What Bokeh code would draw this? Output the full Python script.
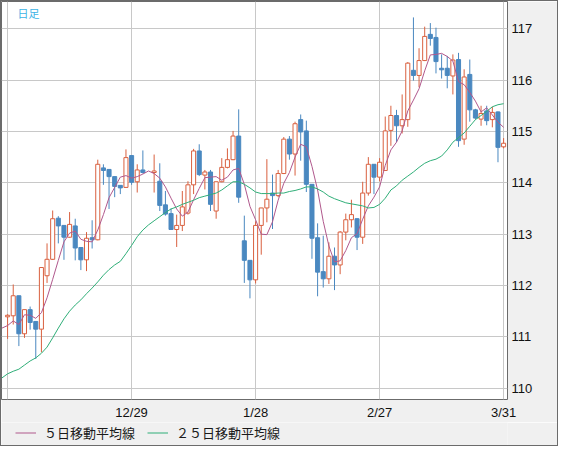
import numpy as np
from bokeh.plotting import figure
from bokeh.layouts import column
from bokeh.models import (ColumnDataSource, FixedTicker, Range1d, Legend,
                          LegendItem, Label)
from bokeh.embed import file_html
from bokeh.resources import INLINE

nan = float("nan")

# ---- daily candles (index 0 .. 88) ----
open_ = [
    111.39, 111.41, 111.80, 111.06, 111.53, 111.30, 111.15, 112.19, 112.51, 113.31,
    113.17, 112.94, 113.16, 112.74, 112.50, 112.93, 112.89, 114.29, 114.26, 114.12,
    113.95, 113.91, 114.53, 114.02, 114.25, nan, 114.20, 114.03, 113.57, 113.40,
    113.09, 113.17, 113.41, 113.96, 114.62, 114.15, 114.21, 113.45, 114.02, 114.30,
    114.45, 114.91, 112.87, 112.49, 112.11, 113.17, 113.51, 113.80, 113.75, 114.18,
    114.85, 114.56, 115.23, 115.01, 113.97, 112.93, 112.27, 112.13, 112.57, 112.40,
    113.04, 113.28, 113.30, 112.94, 113.80, 114.36, 114.11, 114.24, 115.02, 115.31,
    115.11, 115.23, 116.19, 116.09, 116.38, 116.89, 116.83, 116.23, 116.23, 116.08,
    116.40, 114.85, 116.11, 115.42, 115.24, 115.40, 115.23, 115.38, 114.70,
]
high = [
    111.44, 112.02, 111.80, 111.53, 111.59, 111.30, 112.36, 112.82, 113.46, 113.35,
    113.17, 113.43, 113.30, 112.74, 113.04, 113.27, 114.45, 114.36, 114.26, 114.12,
    113.95, 114.65, 114.53, 114.36, 114.63, nan, 114.55, 114.38, 113.84, 113.50,
    113.38, 113.84, 114.03, 114.66, 114.75, 114.25, 114.25, 114.02, 114.48, 114.67,
    115.01, 115.43, 113.36, 112.49, 113.25, 113.51, 114.46, 114.16, 114.25, 114.89,
    114.91, 115.19, 115.33, 115.21, 113.97, 113.21, 112.97, 112.84, 112.74, 113.06,
    113.40, 113.67, 113.31, 114.02, 114.50, 114.36, 114.48, 115.29, 115.50, 115.42,
    115.72, 116.35, 117.22, 116.62, 117.04, 117.11, 117.02, 116.50, 116.47, 116.50,
    116.53, 116.21, 116.40, 115.44, 115.50, 115.50, 115.48, 115.39, 114.87,
]
low = [
    110.96, 111.24, 110.82, 110.98, 111.14, 110.57, 110.70, 112.05, 112.50, 112.82,
    112.50, 112.93, 112.49, 112.30, 112.28, 112.72, 112.88, 113.96, 113.49, 113.72,
    113.78, 113.90, 113.96, 113.81, 114.18, nan, 113.81, 113.45, 113.36, 113.09,
    112.75, 113.06, 113.38, 113.78, 114.13, 113.87, 113.45, 113.30, 114.01, 114.28,
    114.44, 113.61, 112.05, 111.75, 112.04, 112.60, 113.23, 113.10, 113.72, 114.17,
    114.45, 114.14, 114.43, 113.82, 112.52, 111.79, 111.96, 112.03, 111.91, 112.22,
    112.88, 113.13, 112.69, 112.81, 113.75, 113.78, 114.03, 114.23, 114.72, 114.79,
    114.96, 115.09, 115.99, 115.86, 116.37, 116.67, 116.13, 116.03, 115.84, 115.72,
    114.70, 114.74, 115.19, 115.23, 115.11, 115.12, 115.08, 114.40, 114.67,
]
close = [
    111.42, 111.80, 111.06, 111.53, 111.28, 111.15, 112.35, 112.51, 113.30, 113.16,
    112.94, 113.19, 112.73, 112.50, 112.92, 112.89, 114.36, 114.24, 114.12, 113.93,
    113.90, 114.49, 114.01, 114.25, 114.20, nan, 114.23, 113.56, 113.39, 113.09,
    113.17, 113.53, 113.96, 114.62, 114.16, 114.21, 113.58, 114.02, 114.30, 114.45,
    114.91, 113.72, 112.49, 112.11, 113.17, 113.51, 113.68, 113.75, 114.18, 114.85,
    114.56, 115.15, 114.99, 113.97, 112.92, 112.26, 112.13, 112.57, 112.40, 113.04,
    113.28, 113.38, 112.94, 113.80, 114.36, 114.11, 114.40, 115.01, 115.31, 115.11,
    115.23, 116.33, 116.09, 116.38, 116.85, 116.81, 116.36, 116.20, 116.09, 116.39,
    114.82, 116.06, 115.42, 115.26, 115.35, 115.21, 115.37, 114.69, 114.77,
]

# ---- moving averages (index -1 .. 88) ----
ma5 = [
    111.17,
    111.22, 111.31, 111.24, 111.43, 111.42, 111.36, 111.47, 111.76, 112.12, 112.49,
    112.85, 113.02, 113.06, 112.90, 112.86, 112.85, 113.08, 113.38, 113.71, 113.91,
    114.11, 114.14, 114.09, 114.12, 114.17, 114.23, 114.18, 114.09, 113.92, 113.70,
    113.49, 113.35, 113.43, 113.67, 113.89, 114.10, 114.11, 114.12, 114.05, 114.11,
    114.25, 114.28, 113.97, 113.54, 113.28, 113.00, 112.99, 113.24, 113.66, 113.99,
    114.20, 114.50, 114.75, 114.70, 114.32, 113.86, 113.25, 112.77, 112.46, 112.48,
    112.68, 112.93, 113.01, 113.29, 113.55, 113.72, 113.92, 114.34, 114.64, 114.79,
    115.01, 115.40, 115.61, 115.83, 116.18, 116.49, 116.50, 116.52, 116.46, 116.37,
    115.97, 115.91, 115.76, 115.59, 115.38, 115.46, 115.32, 115.18, 115.08,
]
ma25 = [
    110.20,
    110.28, 110.33, 110.37, 110.45, 110.53, 110.59, 110.68, 110.80, 110.98, 111.17,
    111.35, 111.50, 111.62, 111.72, 111.84, 111.95, 112.07, 112.20, 112.31, 112.40,
    112.47, 112.62, 112.78, 112.95, 113.08, 113.18, 113.26, 113.34, 113.42, 113.49,
    113.53, 113.58, 113.62, 113.66, 113.71, 113.74, 113.77, 113.80, 113.86, 113.94,
    114.02, 114.02, 113.97, 113.90, 113.82, 113.79, 113.79, 113.79, 113.80, 113.80,
    113.83, 113.85, 113.88, 113.92, 113.92, 113.88, 113.82, 113.74, 113.69, 113.65,
    113.61, 113.59, 113.57, 113.55, 113.51, 113.52, 113.58, 113.70, 113.86, 113.94,
    114.05, 114.13, 114.21, 114.30, 114.38, 114.43, 114.46, 114.52, 114.64, 114.79,
    114.88, 114.97, 115.10, 115.23, 115.31, 115.39, 115.48, 115.52, 115.54,
]

# ---- axes ----
y_ticks = [110, 111, 112, 113, 114, 115, 116, 117]
x_tick_idx = [0, 22, 44, 66, 88]
x_tick_labels = ["", "12/29", "1/28", "2/27", "3/31"]
legend_labels = ["５日移動平均線", "２５日移動平均線"]
period_label = "日足"

RED = "#d9603f"
BLUE = "#4a88c0"
MAG = "#b0588c"
GRN = "#2fae78"
GRID = "#c8c8c8"
FRAME = "#6b6b6b"
BG = "#f0f0f0"

idx = np.arange(len(close))
ma_idx = np.arange(-1, len(close))
o = np.array(open_); h = np.array(high); l = np.array(low); c = np.array(close)
valid = ~np.isnan(c)
up = valid & (c >= o)
dn = valid & (c < o)

src_up = ColumnDataSource(dict(x=idx[up], o=o[up], h=h[up], l=l[up], c=c[up]))
src_dn = ColumnDataSource(dict(x=idx[dn], o=o[dn], h=h[dn], l=l[dn], c=c[dn]))

p = figure(width=556, height=421, output_backend="svg", toolbar_location=None,
           x_range=Range1d(-1.08, 88.69), y_range=Range1d(109.78, 117.53),
           y_axis_location="right",
           min_border_left=0, min_border_top=0, min_border_right=50,
           min_border_bottom=23)
p.background_fill_color = "white"
p.border_fill_color = BG
p.outline_line_color = FRAME
p.outline_line_width = 1

p.xgrid.ticker = FixedTicker(ticks=x_tick_idx)
p.ygrid.ticker = FixedTicker(ticks=y_ticks)
for g in (p.xgrid, p.ygrid):
    g.grid_line_color = GRID
    g.grid_line_width = 1

p.yaxis.ticker = FixedTicker(ticks=y_ticks)
p.xaxis.ticker = FixedTicker(ticks=x_tick_idx)
p.xaxis.major_label_overrides = {t: s for t, s in zip(x_tick_idx, x_tick_labels)}
for ax in (p.xaxis, p.yaxis):
    ax.axis_line_color = None
    ax.major_tick_line_color = None
    ax.minor_tick_line_color = None
    ax.major_tick_out = 0
    ax.major_tick_in = 0
    ax.major_label_text_font = "Liberation Sans"
    ax.major_label_text_font_size = "13px"
    ax.major_label_text_color = "#111111"
p.yaxis.major_label_standoff = 4
p.xaxis.major_label_standoff = 5

p.segment(x0="x", y0="h", x1="x", y1="l", source=src_dn, line_color=BLUE, line_width=1)
p.vbar(x="x", top="o", bottom="c", width=0.72, source=src_dn,
       fill_color=BLUE, line_color=BLUE, line_width=1)
p.segment(x0="x", y0="h", x1="x", y1="l", source=src_up, line_color=RED, line_width=1)
p.vbar(x="x", top="c", bottom="o", width=0.72, source=src_up,
       fill_color="white", line_color=RED, line_width=1)

p.line(ma_idx, ma5, line_color=MAG, line_width=1)
p.line(ma_idx, ma25, line_color=GRN, line_width=1)

p.add_layout(Label(x=16, y=117.46, x_units="screen", y_units="data",
                   text=period_label, text_baseline="top",
                   text_font="Noto Sans CJK JP", text_font_size="11px",
                   text_color="#3cb4e6"))

# ---- legend strip ----
lg = figure(width=556, height=23, output_backend="svg", toolbar_location=None,
            x_axis_type=None, y_axis_type=None, x_range=Range1d(0, 1), y_range=Range1d(0, 1),
            min_border_left=0, min_border_right=0, min_border_top=0, min_border_bottom=0)
lg.background_fill_color = BG
lg.border_fill_color = BG
lg.outline_line_color = None
lg.grid.visible = False
l5 = lg.line([5, 6], [5, 5], line_color=MAG, line_width=1)
l25 = lg.line([5, 6], [5, 5], line_color=GRN, line_width=1)
legend = Legend(items=[LegendItem(label=legend_labels[0], renderers=[l5]),
                       LegendItem(label=legend_labels[1], renderers=[l25])],
                orientation="horizontal", location=(14, 3), padding=0, margin=0,
                spacing=12, glyph_width=21, glyph_height=15, label_height=15,
                label_standoff=8,
                label_text_font="Noto Sans CJK JP", label_text_font_size="13px",
                label_text_color="#1a1a1a", background_fill_alpha=0,
                border_line_color=None)
lg.add_layout(legend)

layout = column(p, lg, spacing=0, styles={"border": "1px solid " + FRAME})

with open("out.html", "w", encoding="utf-8") as f:
    f.write(file_html(layout, INLINE))
